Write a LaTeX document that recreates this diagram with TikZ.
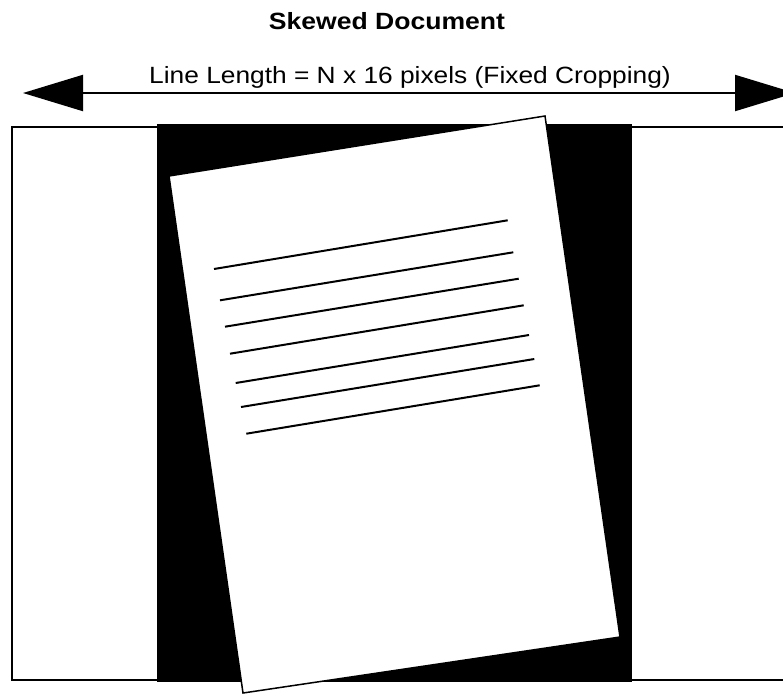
\documentclass[tikz,border=0pt]{standalone}
\usepackage{fontspec}
\setmainfont{Liberation Sans}
\usetikzlibrary{arrows.meta}
\begin{document}
\begin{tikzpicture}[x=1pt,y=-1pt,
  frame/.style={draw=black,line width=2pt,fill=white},
  txtline/.style={draw=black,line width=2pt,line cap=butt},
  bigarrow/.style={line width=2pt,{Triangle[length=60pt,width=36pt]}-{Triangle[length=60pt,width=36pt]}}]
\useasboundingbox (0,0) rectangle (783,694);
\fill[white] (0,0) rectangle (783,694);
% outer frame
\draw[frame] (12,127) rectangle (790,680);
% black background
\fill[black] (157,124) rectangle (632,682);
% skewed page
\coordinate (p1) at (169,176);
\coordinate (p2) at (545,116);
\coordinate (p3) at (620,637);
\coordinate (p4) at (243,693);
\draw[draw=black,line width=1.5pt,fill=white,line join=miter] (p1) -- (p2) -- (p3) -- (p4) -- cycle;
% text lines
\coordinate (l1a) at (214,269.0); \coordinate (l1b) at (507.7,220.3);
\coordinate (l2a) at (220,300.3); \coordinate (l2b) at (513.3,252.3);
\coordinate (l3a) at (225,326.7); \coordinate (l3b) at (518.7,278.7);
\coordinate (l4a) at (230,353.7); \coordinate (l4b) at (523.7,305.3);
\coordinate (l5a) at (235.7,383.0); \coordinate (l5b) at (529,335.0);
\coordinate (l6a) at (241,407.0); \coordinate (l6b) at (534.3,359.0);
\coordinate (l7a) at (246.3,433.7); \coordinate (l7b) at (539.7,385.3);
\foreach \i in {1,...,7} {\draw[txtline] (l\i a) -- (l\i b);}
% arrow
\coordinate (aL) at (23,93);
\coordinate (aR) at (795,93);
\draw[bigarrow] (aL) -- (aR);
% texts
\node[anchor=base,inner sep=0pt,font=\bfseries\fontsize{23.5}{27}\selectfont] (title) at (387,29) {\scalebox{1.13}[1]{Skewed Document}};
\node[anchor=base,inner sep=0pt,font=\fontsize{23.5}{27}\selectfont] (label) at (410,83) {\scalebox{1.12}[1]{Line Length = N x 16 pixels (Fixed Cropping)}};
\end{tikzpicture}
\end{document}
